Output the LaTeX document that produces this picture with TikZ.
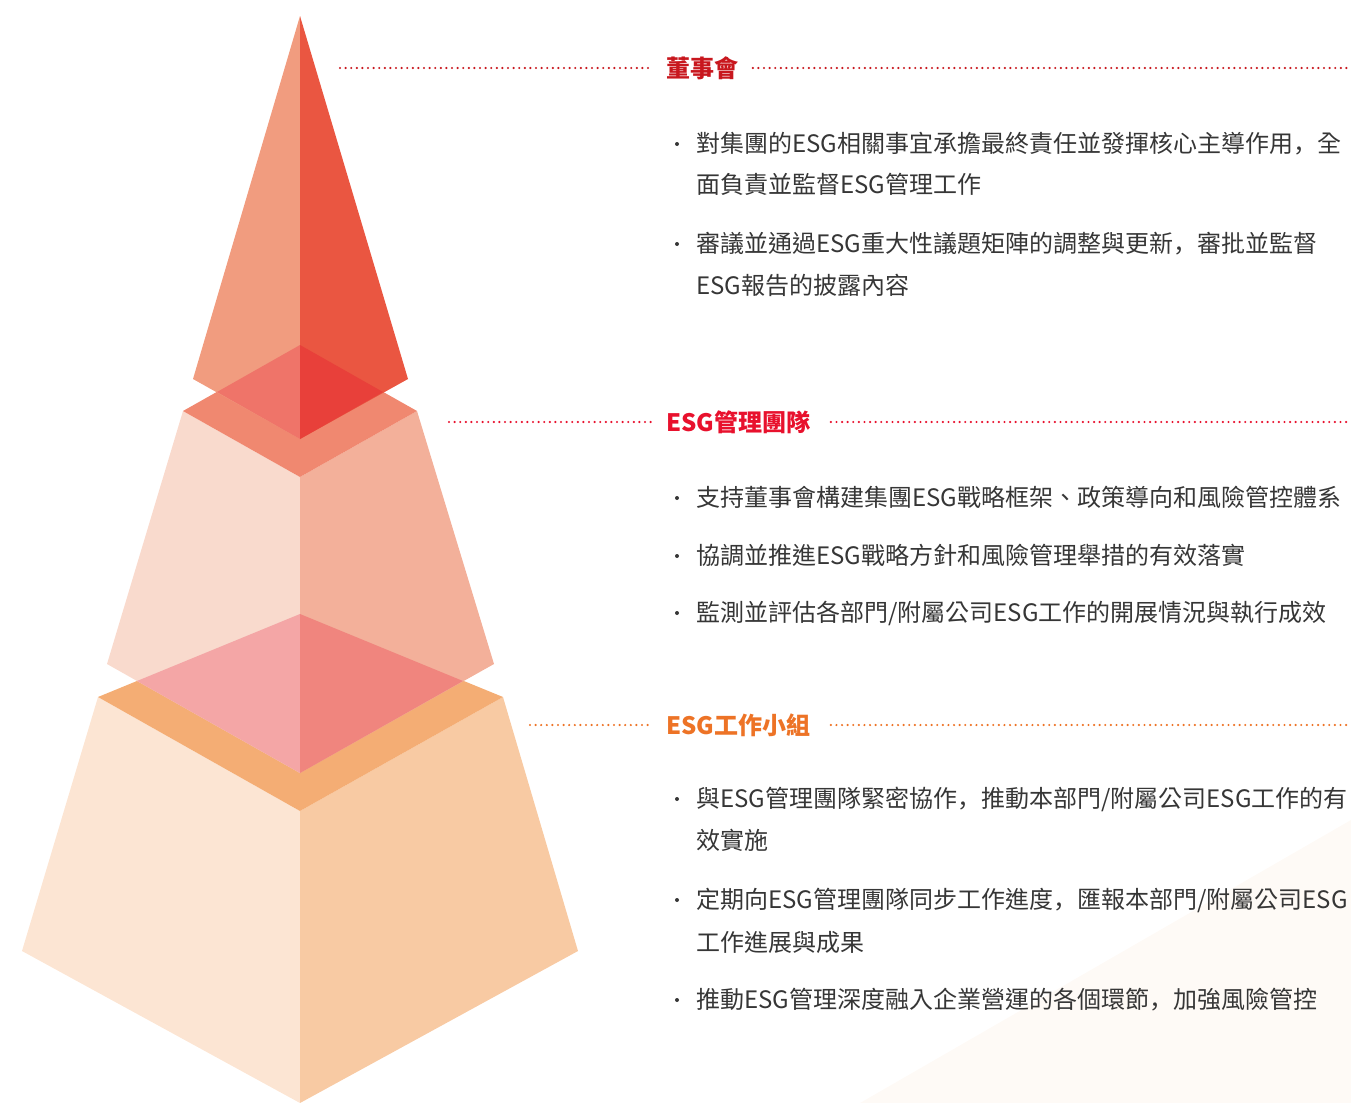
\documentclass[tikz,border=0pt]{standalone}
\usepackage{fontspec}
\setmainfont{Noto Sans CJK TC}
\newfontfamily\cjk{Noto Sans CJK TC}
\newfontfamily\cjkjp{Noto Sans CJK JP}
\newcommand{\fwcomma}{{\cjkjp ，}}
\definecolor{txtgray}{HTML}{363636}
\definecolor{boardred}{HTML}{C8171E}
\definecolor{teamred}{HTML}{E8112D}
\definecolor{grouporange}{HTML}{ED7326}
% pyramid tones
\definecolor{topL}{HTML}{F19C7F}
\definecolor{topR}{HTML}{EA5641}
\definecolor{topOvL}{HTML}{EF7469}
\definecolor{topOvR}{HTML}{E8403A}
\definecolor{midTop}{HTML}{F08870}
\definecolor{midL}{HTML}{F9DACD}
\definecolor{midR}{HTML}{F3B09A}
\definecolor{midOvL}{HTML}{F4A6A6}
\definecolor{midOvR}{HTML}{F0857E}
\definecolor{botTop}{HTML}{F4AD74}
\definecolor{botL}{HTML}{FCE5D3}
\definecolor{botR}{HTML}{F8CAA3}
\definecolor{paper}{HTML}{FEFAF6}
\begin{document}
\begin{tikzpicture}[x=0.5pt,y=-0.5pt,
  heading/.style={font=\cjk\fontsize{12}{14}\selectfont\bfseries, anchor=west, inner xsep=7pt, inner ysep=0pt},
  bodyline/.style={font=\cjk\fontsize{12}{14}\selectfont, text=txtgray, anchor=base west, inner sep=0pt},
  bulletdot/.style={circle, fill=txtgray, inner sep=0pt, minimum size=2pt},
  dotline/.style={line width=1.2pt, line cap=round, dash pattern=on 0pt off 2.8pt}
]
\useasboundingbox (0,0) rectangle (1351,1103);

% faint paper tint in the lower right corner
\fill[paper] (860,1103) -- (1351,820) -- (1351,1103) -- cycle;

% ---------- bottom tier ----------
\fill[botL] (98,697) -- (22,951) -- (300,1103) -- (300,811) -- cycle;
\fill[botR] (503,697) -- (578,951) -- (300,1103) -- (300,811) -- cycle;
\fill[botTop] (300,614) -- (98,697) -- (300,811) -- (503,697) -- cycle;

% ---------- middle tier ----------
\fill[midL] (183,411) -- (107,664) -- (300,773) -- (300,477) -- cycle;
\fill[midR] (417,411) -- (494,664) -- (300,773) -- (300,477) -- cycle;
\fill[midOvL] (300,614) -- (137,681) -- (300,773) -- cycle;
\fill[midOvR] (300,614) -- (463,681) -- (300,773) -- cycle;
\fill[midTop] (300,345) -- (183,411) -- (300,477) -- (417,411) -- cycle;

% ---------- top tier ----------
\fill[topL] (300,16) -- (193,379) -- (300,439) -- cycle;
\fill[topR] (300,16) -- (408,379) -- (300,439) -- cycle;
\fill[topOvL] (300,345) -- (217,392) -- (300,439) -- cycle;
\fill[topOvR] (300,345) -- (383,392) -- (300,439) -- cycle;

% ---------- headings with dotted leaders ----------
\node[heading, text=boardred] (h1) at (652,68) {董事會};
\coordinate (h1a) at (340,68);
\coordinate (h1b) at (1348,68);
\draw[dotline, boardred] (h1a) -- (h1.west);
\draw[dotline, boardred] (h1.east) -- (h1b);

\node[heading, text=teamred] (h2) at (652,422) {ESG管理團隊};
\coordinate (h2a) at (449,422);
\coordinate (h2b) at (1348,422);
\draw[dotline, teamred] (h2a) -- (h2.west);
\draw[dotline, teamred] ([xshift=3pt]h2.east) -- (h2b);

\node[heading, text=grouporange] (h3) at (652,725) {ESG工作小組};
\coordinate (h3a) at (530,725);
\coordinate (h3b) at (1348,725);
\draw[dotline, grouporange] (h3a) -- (h3.west);
\draw[dotline, grouporange] ([xshift=3pt]h3.east) -- (h3b);

% ---------- board duties ----------
\node[bulletdot] (b11) at (677,144) {};
\node[bodyline] (t11a) at (696,152) {對集團的ESG相關事宜承擔最終責任並發揮核心主導作用\fwcomma 全};
\node[bodyline] (t11b) at (696,193) {面負責並監督ESG管理工作};
\node[bulletdot] (b12) at (677,244) {};
\node[bodyline] (t12a) at (696,252) {審議並通過ESG重大性議題矩陣的調整與更新\fwcomma 審批並監督};
\node[bodyline] (t12b) at (696,294) {ESG報告的披露內容};

% ---------- management team duties ----------
\node[bulletdot] (b21) at (677,498) {};
\node[bodyline] (t21) at (696,506) {支持董事會構建集團ESG戰略框架、政策導向和風險管控體系};
\node[bulletdot] (b22) at (677,556) {};
\node[bodyline] (t22) at (696,564) {協調並推進ESG戰略方針和風險管理舉措的有效落實};
\node[bulletdot] (b23) at (677,613) {};
\node[bodyline] (t23) at (696,621) {監測並評估各部門/附屬公司ESG工作的開展情況與執行成效};

% ---------- working group duties ----------
\node[bulletdot] (b31) at (677,799) {};
\node[bodyline] (t31a) at (696,807) {與ESG管理團隊緊密協作\fwcomma 推動本部門/附屬公司ESG工作的有};
\node[bodyline] (t31b) at (696,849) {效實施};
\node[bulletdot] (b32) at (677,900) {};
\node[bodyline] (t32a) at (696,908) {定期向ESG管理團隊同步工作進度\fwcomma 匯報本部門/附屬公司ESG};
\node[bodyline] (t32b) at (696,951) {工作進展與成果};
\node[bulletdot] (b33) at (677,1000) {};
\node[bodyline] (t33) at (696,1008) {推動ESG管理深度融入企業營運的各個環節\fwcomma 加強風險管控};
\end{tikzpicture}
\end{document}
